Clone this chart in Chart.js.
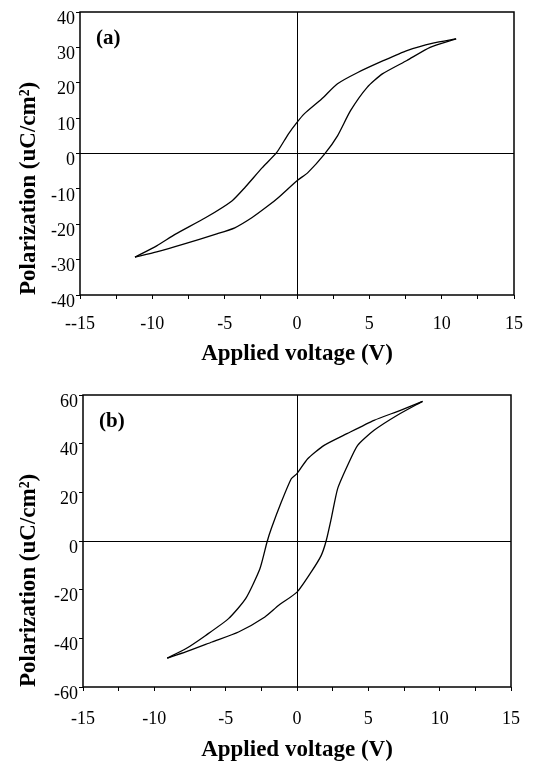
<!DOCTYPE html>
<html>
<head>
<meta charset="utf-8">
<script src="https://cdn.jsdelivr.net/npm/chart.js@4.4.1/dist/chart.umd.min.js"></script>
<style>
  body { margin: 0; background: #fff; }
  #wrap { position: relative; width: 537px; height: 770px; }
  canvas { position: absolute; left: 0; }
</style>
</head>
<body>
<div id="wrap">
  <canvas id="chartA" width="537" height="380" style="top:0"></canvas>
  <canvas id="chartB" width="537" height="390" style="top:380px"></canvas>
</div>
<script>
// panel (a): applied voltage (V) and polarization (uC/cm2)
const aUpperV = [11.0, 9.4, 7.6, 6.0, 4.2, 2.8, 1.7, 0.5, 0, -0.6, -1.4, -2.4, -3.6, -4.5, -6.3, -8.4, -9.7, -11.2];
const aUpperP = [32.4, 31.2, 29.1, 26.3, 22.9, 19.7, 15.4, 11.2, 8.8, 5.5, 0.3, -4.0, -9.6, -13.4, -18.1, -22.8, -26.1, -29.3];
const aLowerV = [-11.2, -9.7, -7.9, -5.6, -4.3, -3.1, -2.0, -1.3, 0, 0.75, 1.9, 2.8, 3.7, 4.85, 5.9, 7.6, 9.2, 11.0];
const aLowerP = [-29.3, -27.8, -25.7, -22.8, -21.0, -18.1, -14.8, -12.5, -7.7, -5.4, -0.2, 5.0, 12.1, 18.7, 22.5, 26.3, 30.0, 32.4];

// panel (b)
const bUpperV = [8.8, 7.25, 5.4, 3.5, 1.9, 0.75, 0, -0.4, -1.1, -1.8, -2.1, -2.6, -3.6, -4.8, -6.4, -7.8, -9.1];
const bUpperP = [57.4, 53.7, 49.6, 44.1, 39.3, 33.8, 27.7, 25.6, 16.0, 5.1, -0.4, -11.4, -23.7, -31.9, -38.8, -44.3, -48.1];
const bLowerV = [-9.1, -7.8, -5.95, -4.1, -2.25, -1.3, 0, 1.0, 1.7, 2.05, 2.4, 2.85, 3.55, 4.25, 5.4, 7.0, 8.8];
const bLowerP = [-48.1, -45.6, -41.5, -37.4, -31.2, -26.5, -21.0, -12.7, -5.9, 0.2, 9.2, 21.5, 31.1, 39.3, 45.5, 51.6, 57.4];

const xTicksA = { '-15': '--15', '-10': '-10', '-5': '-5', '0': '0', '5': '5', '10': '10', '15': '15' };
const xTicksB = { '-15': '-15', '-10': '-10', '-5': '-5', '0': '0', '5': '5', '10': '10', '15': '15' };

const serif = '"Liberation Serif", "Times New Roman", serif';

function pts(vs, ps) {
  return vs.map((v, i) => ({ x: v, y: ps[i] }));
}

const boxPlugin = {
  id: 'box',
  afterDraw(chart, args, opts) {
    const { ctx, chartArea: a } = chart;
    ctx.save();
    ctx.strokeStyle = '#000';
    ctx.lineWidth = 1.5;
    ctx.strokeRect(a.left, a.top, a.right - a.left, a.bottom - a.top);
    ctx.fillStyle = '#000';
    ctx.font = 'bold 21px ' + serif;
    ctx.textBaseline = 'middle';
    ctx.fillText(opts.text, a.left + 16, a.top + 27);
    ctx.restore();
  }
};

function zeroLine(c) {
  return c.tick && c.tick.value === 0 ? '#000' : 'rgba(0,0,0,0)';
}

function makeChart(id, cfg) {
  const line = { showLine: true, pointRadius: 0, borderColor: '#000', borderWidth: 1.3, tension: 0.2, fill: false };
  return new Chart(document.getElementById(id), {
    type: 'scatter',
    data: {
      datasets: [
        Object.assign({ data: pts(cfg.upV, cfg.upP) }, line),
        Object.assign({ data: pts(cfg.loV, cfg.loP) }, line)
      ]
    },
    plugins: [boxPlugin],
    options: {
      responsive: false,
      animation: false,
      layout: { padding: cfg.pad },
      plugins: { legend: { display: false }, tooltip: { enabled: false }, box: { text: cfg.tag } },
      scales: {
        x: {
          type: 'linear', min: -15, max: 15,
          afterFit: s => { s.height = cfg.xH; },
          border: { display: false },
          grid: { color: zeroLine, tickColor: '#000', tickLength: 4, lineWidth: 1 },
          ticks: {
            stepSize: 2.5, autoSkip: false, maxRotation: 0, padding: cfg.xPad,
            color: '#000', font: { family: serif, size: 18 },
            callback: v => cfg.xLabels[String(v)] || ''
          },
          title: {
            display: true, text: 'Applied voltage (V)', color: '#000',
            font: { family: serif, size: 23, weight: 'bold' },
            padding: { bottom: cfg.xTitlePad }
          }
        },
        y: {
          type: 'linear', min: cfg.yMin, max: cfg.yMax,
          afterFit: s => { s.width = cfg.yW; },
          border: { display: false },
          grid: { color: zeroLine, tickColor: '#000', tickLength: 4, lineWidth: 1 },
          ticks: {
            stepSize: cfg.yStep, padding: 1, labelOffset: 7,
            color: '#000', font: { family: serif, size: 18 }
          },
          title: {
            display: true, text: 'Polarization (uC/cm²)', color: '#000', align: 'start',
            font: { family: serif, size: 23, weight: 'bold' },
            padding: { top: 15 }
          }
        }
      }
    }
  });
}

makeChart('chartA', {
  upV: aUpperV, upP: aUpperP, loV: aLowerV, loP: aLowerP,
  tag: '(a)', yMin: -40, yMax: 40, yStep: 10, xLabels: xTicksA,
  pad: { top: 12, right: 17, bottom: 0, left: 0 },
  yW: 80, xH: 85, xPad: 14, xTitlePad: 12
});

makeChart('chartB', {
  upV: bUpperV, upP: bUpperP, loV: bLowerV, loP: bLowerP,
  tag: '(b)', yMin: -60, yMax: 60, yStep: 20, xLabels: xTicksB,
  pad: { top: 15, right: 22, bottom: 0, left: 0 },
  yW: 83, xH: 83, xPad: 17, xTitlePad: 6
});
</script>
</body>
</html>
